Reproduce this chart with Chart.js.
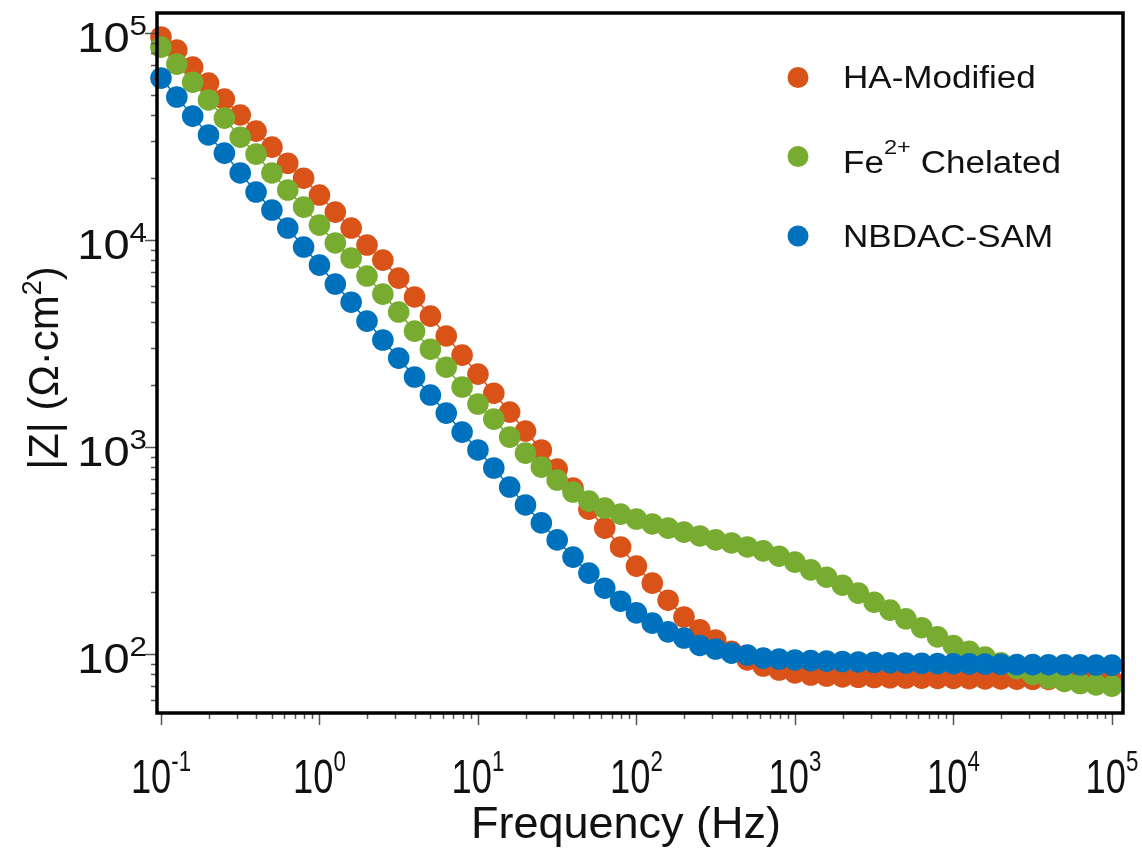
<!DOCTYPE html>
<html>
<head>
<meta charset="utf-8">
<script src="https://cdn.jsdelivr.net/npm/chart.js@4.4.1/dist/chart.umd.min.js"></script>
<style>
  html, body { margin: 0; padding: 0; background: #fff; }
  #wrap { width: 1142px; height: 848px; position: relative; }
</style>
</head>
<body>
<div id="wrap"><canvas id="bode"></canvas></div>
<script>
// measured frequencies (Hz), 10 points per decade
const freqHz = [
  0.1, 0.1259, 0.1585, 0.1995, 0.2512, 0.3162, 0.3981, 0.5012, 0.631, 0.7943,
  1, 1.259, 1.585, 1.995, 2.512, 3.162, 3.981, 5.012, 6.31, 7.943,
  10, 12.59, 15.85, 19.95, 25.12, 31.62, 39.81, 50.12, 63.1, 79.43,
  100, 125.9, 158.5, 199.5, 251.2, 316.2, 398.1, 501.2, 631, 794.3,
  1000, 1259, 1585, 1995, 2512, 3162, 3981, 5012, 6310, 7943,
  10000, 12590, 15850, 19950, 25120, 31620, 39810, 50120, 63100, 79430,
  100000
];

// |Z| in ohm·cm2 for each coating
const haModified = [
  95700, 82800, 68500, 57300, 48000, 40200, 33600, 28100, 23500, 19900,
  16500, 13650, 11430, 9460, 8000, 6550, 5310, 4290, 3440, 2780,
  2250, 1820, 1476, 1195, 968, 783, 634, 501, 406, 329,
  266, 220, 182, 151, 131, 117, 103, 93.6, 87.5, 83.7,
  81.0, 79.2, 78.3, 77.6, 77.2, 77.0, 76.8, 76.6, 76.5, 76.3,
  76.2, 76.0, 75.9, 75.8, 75.6, 75.5, 75.4, 75.2, 75.1, 75.0,
  74.8
];
const feChelated = [
  85500, 70800, 57900, 47500, 38800, 31400, 26000, 21100, 17450, 14430,
  11810, 9680, 8190, 6700, 5480, 4490, 3630, 2970, 2430, 1950,
  1614, 1365, 1117, 935, 800, 693, 606, 548, 507, 474,
  449, 425, 406, 388, 372, 356, 344, 329, 315, 297,
  278, 255, 235, 215, 197, 178, 163, 148, 134, 121,
  110, 103, 96.7, 90.7, 85.0, 79.7, 76.3, 73.7, 72.0, 71.0,
  70.0
];
const nbdacSam = [
  60600, 49100, 39700, 32200, 26300, 21100, 17060, 13960, 11430, 9250,
  7570, 6130, 5010, 4060, 3290, 2690, 2180, 1783, 1459, 1181,
  968, 792, 641, 525, 430, 356, 294, 246, 208, 180,
  158, 141, 128, 119.5, 110, 105.7, 101, 98.9, 95.6, 94.6,
  93.6, 93.0, 92.5, 92.0, 91.6, 91.2, 90.8, 90.5, 90.2, 90.0,
  89.8, 89.6, 89.4, 89.2, 89.0, 88.9, 88.8, 88.7, 88.6, 88.5,
  88.4
];

const seriesLabels = ['HA-Modified', 'Fe^{2+} Chelated', 'NBDAC-SAM'];
const seriesColors = ['#D95319', '#77AC30', '#0072BD'];
const xExponents = [-1, 0, 1, 2, 3, 4, 5];
const yExponents = [2, 3, 4, 5];

const FONT = '"Liberation Sans", Arial, Helvetica, sans-serif';

// split "abc^{sup}def" into plain / superscript pieces
function richParts(str) {
  const out = [];
  const re = /\^\{([^}]*)\}/g;
  let last = 0, m;
  while ((m = re.exec(str))) {
    if (m.index > last) out.push({ t: str.slice(last, m.index), sup: false });
    out.push({ t: m[1], sup: true });
    last = re.lastIndex;
  }
  if (last < str.length) out.push({ t: str.slice(last), sup: false });
  return out;
}

function drawRich(ctx, str, x, y, o) {
  const segs = richParts(str);
  let w = 0;
  segs.forEach(s => {
    ctx.font = (s.sup ? o.sup : o.size) + 'px ' + FONT;
    s.w = ctx.measureText(s.t).width;
    w += s.w;
  });
  ctx.save();
  ctx.translate(x, y);
  if (o.rotate) ctx.rotate(o.rotate);
  ctx.scale(o.sx || 1, 1);
  let cx = o.align === 'center' ? -w / 2 : o.align === 'right' ? -w : 0;
  ctx.textAlign = 'left';
  ctx.textBaseline = 'alphabetic';
  ctx.fillStyle = o.color || '#111';
  segs.forEach(s => {
    ctx.font = (s.sup ? o.sup : o.size) + 'px ' + FONT;
    ctx.fillText(s.t, cx, s.sup ? -o.rise : 0);
    cx += s.w;
  });
  ctx.restore();
}

// box, outward log ticks, power-of-ten labels, axis titles and legend
const frame = {
  id: 'frame',
  afterDatasetsDraw(chart) {
    const ctx = chart.ctx;
    const a = chart.chartArea;
    const xs = chart.scales.x, ys = chart.scales.y;

    ctx.save();
    ctx.strokeStyle = '#555';
    ctx.lineWidth = 1.5;
    ctx.beginPath();
    for (let e = -2; e <= 6; e++) {
      for (let m = 1; m <= 9; m++) {
        const v = m * Math.pow(10, e);
        if (v >= xs.min && v <= xs.max) {
          const px = Math.round(xs.getPixelForValue(v)) + 0.5;
          ctx.moveTo(px, a.bottom);
          ctx.lineTo(px, a.bottom + (m === 1 ? 12 : 6));
        }
        if (v >= ys.min && v <= ys.max) {
          const py = Math.round(ys.getPixelForValue(v)) + 0.5;
          ctx.moveTo(a.left, py);
          ctx.lineTo(a.left - (m === 1 ? 12 : 6), py);
        }
      }
    }
    ctx.stroke();

    ctx.strokeStyle = '#000';
    ctx.lineWidth = 3.5;
    ctx.strokeRect(a.left, a.top, a.right - a.left, a.bottom - a.top);
    ctx.restore();
  },
  afterDraw(chart) {
    const ctx = chart.ctx;
    const xs = chart.scales.x, ys = chart.scales.y;

    xExponents.forEach(e => {
      drawRich(ctx, '10^{' + e + '}', xs.getPixelForValue(Math.pow(10, e)), 793,
        { size: 49, sup: 30, rise: 22, sx: 0.74, align: 'center' });
    });
    yExponents.forEach(e => {
      drawRich(ctx, '10^{' + e + '}', 147, ys.getPixelForValue(Math.pow(10, e)) + 19,
        { size: 42, sup: 28, rise: 17, sx: 1.12, align: 'right' });
    });

    drawRich(ctx, 'Frequency (Hz)', 626, 838, { size: 45, sup: 28, rise: 18, align: 'center' });
    drawRich(ctx, '|Z| (\u03A9\u00B7cm^{2})', 58, 368,
      { size: 42, sup: 27, rise: 17, align: 'center', rotate: -Math.PI / 2 });

    // legend
    const rows = [77.5, 156.5, 236];
    const bases = [88, 173, 247];
    seriesLabels.forEach((lab, i) => {
      ctx.beginPath();
      ctx.fillStyle = seriesColors[i];
      ctx.arc(798, rows[i], 10.5, 0, Math.PI * 2);
      ctx.fill();
      drawRich(ctx, lab, 843, bases[i], { size: 31, sup: 21, rise: 19, sx: 1.13, align: 'left' });
    });
  }
};

function points(values) {
  return freqHz.map((f, i) => ({ x: f, y: values[i] }));
}

const allSeries = [haModified, feChelated, nbdacSam];

new Chart(document.getElementById('bode'), {
  type: 'scatter',
  data: {
    datasets: allSeries.map((vals, i) => ({
      label: seriesLabels[i],
      data: points(vals),
      showLine: true,
      borderColor: seriesColors[i],
      backgroundColor: seriesColors[i],
      borderWidth: 1.5,
      pointRadius: 10.8,
      pointBorderWidth: 0,
      pointHoverRadius: 10.8,
      tension: 0,
      clip: false,
      order: 3 - i
    }))
  },
  options: {
    responsive: true,
    maintainAspectRatio: false,
    animation: false,
    layout: { padding: { left: 157, top: 13, right: 19, bottom: 135 } },
    plugins: { legend: { display: false }, tooltip: { enabled: false } },
    scales: {
      x: { type: 'logarithmic', min: 0.0944, max: 117500, display: false },
      y: { type: 'logarithmic', min: 51.9, max: 125000, display: false }
    }
  },
  plugins: [frame]
});
</script>
</body>
</html>
